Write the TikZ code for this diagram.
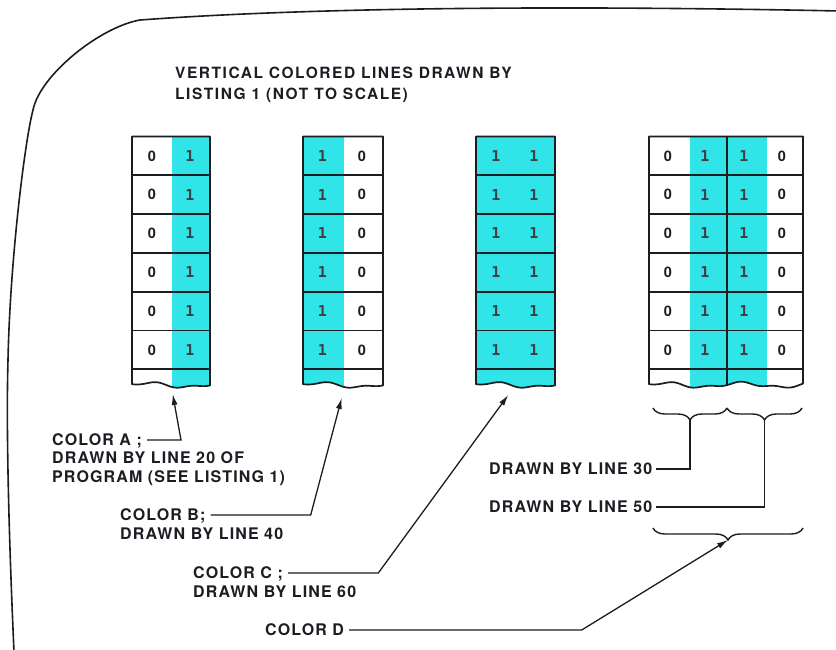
\documentclass[tikz,border=0pt]{standalone}
\usepackage{fontspec}
\setmainfont{TeX Gyre Heros}
\newfontfamily\labfont{TeX Gyre Heros}[LetterSpace=7]
\newfontfamily\ttlfont{TeX Gyre Heros}[LetterSpace=10]
\newfontfamily\onefont{DejaVu Sans Mono}
\usetikzlibrary{arrows.meta,decorations.pathreplacing}
\definecolor{cyanc}{RGB}{48,228,232}
\definecolor{inkc}{RGB}{28,28,34}
\begin{document}
\begin{tikzpicture}[x=1pt,y=-1pt,
  lbl/.style={inner sep=0pt, anchor=west, text height=11.5pt, text depth=0pt,
    font=\labfont\bfseries\fontsize{16}{18}\selectfont, text=inkc},
  ttl/.style={lbl, font=\ttlfont\bfseries\fontsize{15.5}{18}\selectfont},
  zero/.style={inner sep=0pt, font=\bfseries\fontsize{14.5}{16}\selectfont, text=inkc},
  one/.style={inner sep=0pt, font=\onefont\bfseries\fontsize{15}{16}\selectfont, text=inkc!85},
  grid/.style={draw=inkc, line width=1.7pt, line join=round},
  conn/.style={draw=inkc, line width=1.3pt, shorten <=5pt},
  arr/.style={conn, -{Latex[length=11pt,width=6pt]}},
  brc/.style={draw=inkc, line width=1.4pt, decorate, decoration={brace, mirror, amplitude=12pt}},
  frame/.style={draw=inkc, line width=1.6pt, line cap=round}
]
\useasboundingbox (0,0) rectangle (836,649);

% page outline
\draw[frame] (14,652) .. controls (9,540) and (6,430) .. (8,360)
  .. controls (10,260) and (25,140) .. (33,110)
  .. controls (40,75) and (100,27) .. (140,20)
  .. controls (330,6) and (600,6) .. (840,11);

% title
\node[ttl] (tl1) at (175,72.7) {VERTICAL COLORED LINES DRAWN BY};
\node[ttl] (tl2) at (175,94) {LISTING 1 (NOT TO SCALE)};

% columns
\foreach \a/\b/\c/\d/\k in {132/210/172/210/1, 303/383/303/344/1, 476/555/476/555/1, 649/803/690/767/2}{
  \begin{scope}
    \clip (\a,136.5) -- plot[domain=\a:\b, samples=50, smooth]
      (\x, {385+2.2*sin(360*\k*((\x-\a)/(\b-\a))+200)+1.2*sin(828*\k*((\x-\a)/(\b-\a)))})
      -- (\b,136.5) -- cycle;
    \fill[cyanc] (\c,130) rectangle (\d,400);
  \end{scope}
  \foreach \j in {1,...,6}{
    \draw[grid] (\a,{136.5+38.8*\j}) -- (\b,{136.5+38.8*\j});
  }
  \draw[grid] (\a,136.5) -- plot[domain=\a:\b, samples=50, smooth]
      (\x, {385+2.2*sin(360*\k*((\x-\a)/(\b-\a))+200)+1.2*sin(828*\k*((\x-\a)/(\b-\a)))})
      -- (\b,136.5) -- cycle;
}
\draw[grid] (727,136.5) -- (727,385.5);

% digits
\foreach \r in {1,...,6}{
  \node[zero] (a0\r) at (152,{117.1+38.8*\r}) {0};
  \node[one]  (a1\r) at (190,{117.1+38.8*\r}) {1};
  \node[one]  (b1\r) at (322.5,{117.1+38.8*\r}) {1};
  \node[zero] (b0\r) at (362,{117.1+38.8*\r}) {0};
  \node[one]  (c1\r) at (496,{117.1+38.8*\r}) {1};
  \node[one]  (c2\r) at (534,{117.1+38.8*\r}) {1};
  \node[zero] (d0\r) at (668,{117.1+38.8*\r}) {0};
  \node[one]  (d1\r) at (705,{117.1+38.8*\r}) {1};
  \node[one]  (d2\r) at (744,{117.1+38.8*\r}) {1};
  \node[zero] (d3\r) at (782,{117.1+38.8*\r}) {0};
}

% braces
\draw[brc] (653,408) -- (727,408);
\draw[brc] (727,408) -- (802,408);
\draw[brc] (653,528) -- (803,528);
\coordinate (t30) at (690,420);
\coordinate (t50) at (764.5,420);
\coordinate (tD) at (728,540);

% labels
\node[lbl] (la1) at (52,440) {COLOR A ;};
\node[lbl] (la2) at (52,458) {DRAWN BY LINE 20 OF};
\node[lbl] (la3) at (52,476.5) {PROGRAM (SEE LISTING 1)};
\node[lbl] (lb1) at (120,515) {COLOR B;};
\node[lbl] (lb2) at (120,533.5) {DRAWN BY LINE 40};
\node[lbl] (lc1) at (193,573) {COLOR C ;};
\node[lbl] (lc2) at (193,591.5) {DRAWN BY LINE 60};
\node[lbl] (ld1) at (265,630) {COLOR D};
\node[lbl] (l30) at (489,469) {DRAWN BY LINE 30};
\node[lbl] (l50) at (489,507) {DRAWN BY LINE 50};

% arrow tips and bends
\coordinate (tipA) at (172.7,394);
\coordinate (tipB) at (341.7,398);
\coordinate (tipC) at (508.3,395);
\coordinate (kA) at (181,438);
\coordinate (kB) at (310.7,513);
\coordinate (kC) at (378.3,572);
\coordinate (kD) at (581.7,629);

\draw[arr] (la1.east) -- (la1.east -| kA) -- (tipA);
\draw[arr] (lb1.east) -- (lb1.east -| kB) -- (tipB);
\draw[arr] (lc1.east) -- (lc1.east -| kC) -- (tipC);
\draw[arr] (ld1.east) -- (ld1.east -| kD) -- (tD);
\draw[conn, shorten <=0pt, shorten >=4pt] (t30) -- (t30 |- l30.east) -- (l30.east);
\draw[conn, shorten <=0pt, shorten >=4pt] (t50) -- (t50 |- l50.east) -- (l50.east);
\end{tikzpicture}
\end{document}
